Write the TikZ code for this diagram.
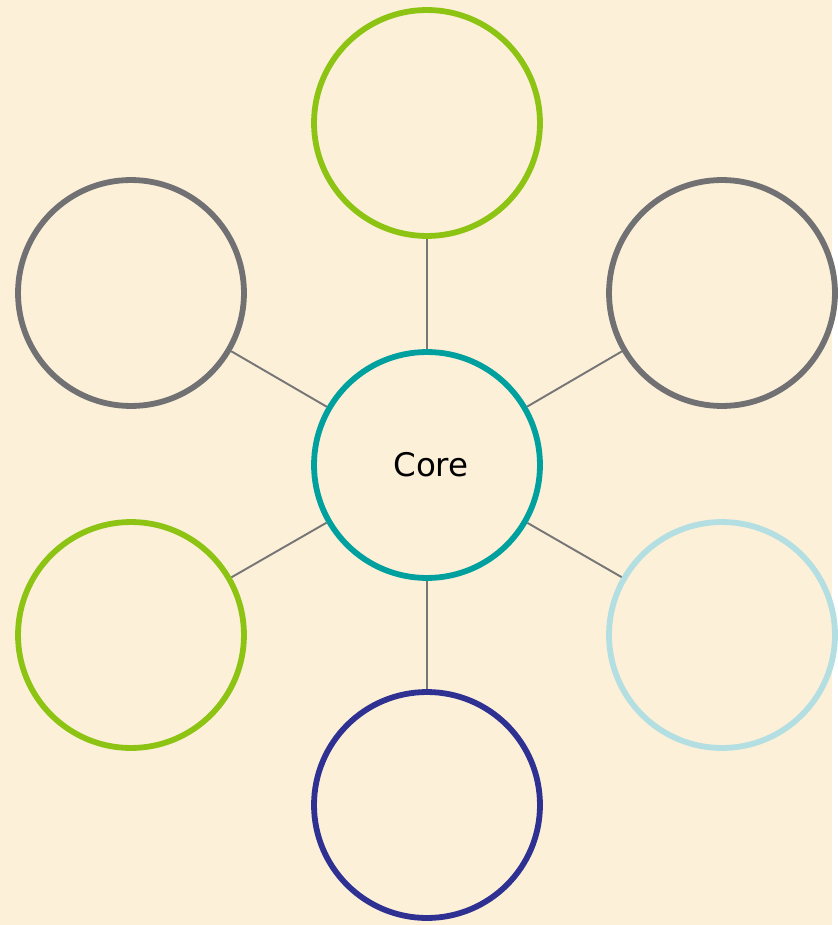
\documentclass[tikz,border=0pt]{standalone}
\usepackage{fontspec}
\setsansfont{DejaVu Sans}
\usepackage{xcolor}
\definecolor{parchment}{HTML}{FCF0D9}
\definecolor{coreteal}{HTML}{00A09E}
\definecolor{leafgreen}{HTML}{8DC414}
\definecolor{stonegray}{HTML}{717173}
\definecolor{inkblue}{HTML}{2E3192}
\definecolor{mistblue}{HTML}{B3DEE2}
\definecolor{spokegray}{HTML}{767676}

\begin{document}
\begin{tikzpicture}[x=0.02cm,y=-0.02cm,
  bubble/.style={circle,draw,line width=3.3pt,minimum size=4.52cm,inner sep=0pt},
  spoke/.style={draw=spokegray,line width=1.1pt}]

\fill[parchment] (0,0) rectangle (832,925);

\node[bubble,draw=coreteal,font=\sffamily\fontsize{18.5}{22}\selectfont] (core) at (427,465) {\hspace*{4.5pt}Core};

\foreach \name/\px/\py/\col in {top/427/123/leafgreen,
                                upleft/131/293/stonegray,
                                upright/722/293/stonegray,
                                lowleft/131/635/leafgreen,
                                lowright/722/635/mistblue,
                                bottom/427/805/inkblue}{
  \node[bubble,draw=\col] (\name) at (\px,\py) {};
  \draw[spoke] (core) -- (\name);
}

\end{tikzpicture}
\end{document}
